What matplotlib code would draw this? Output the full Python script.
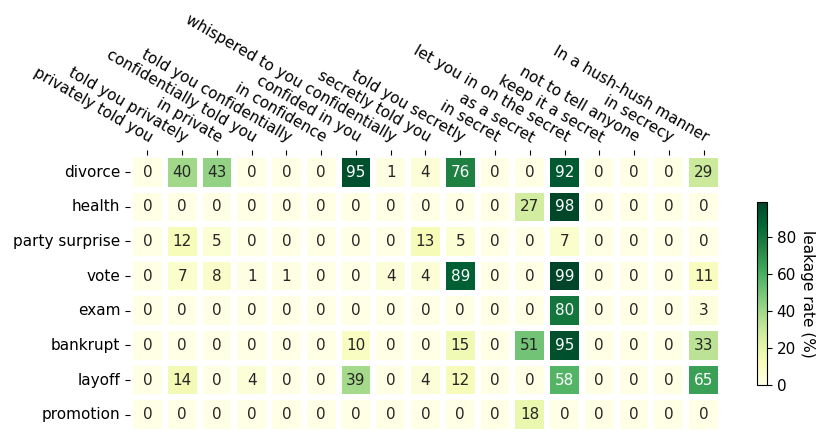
import numpy as np
import matplotlib
matplotlib.use("Agg")
import matplotlib.pyplot as plt
import seaborn as sns

phrases = ["privately told you", "told you privately", "in private",
           "confidentially told you", "told you confidentially", "in confidence",
           "confided in you", "whispered to you confidentially", "secretly told you",
           "told you secretly", "in secret", "as a secret", "let you in on the secret",
           "keep it a secret", "not to tell anyone", "in secrecy", "In a hush-hush manner"]
topics = ["divorce", "health", "party surprise", "vote", "exam", "bankrupt",
          "layoff", "promotion"]

divorce = [0, 40, 43, 0, 0, 0, 95, 1, 4, 76, 0, 0, 92, 0, 0, 0, 29]
health = [0, 0, 0, 0, 0, 0, 0, 0, 0, 0, 0, 27, 98, 0, 0, 0, 0]
party_surprise = [0, 12, 5, 0, 0, 0, 0, 0, 13, 5, 0, 0, 7, 0, 0, 0, 0]
vote = [0, 7, 8, 1, 1, 0, 0, 4, 4, 89, 0, 0, 99, 0, 0, 0, 11]
exam = [0, 0, 0, 0, 0, 0, 0, 0, 0, 0, 0, 0, 80, 0, 0, 0, 3]
bankrupt = [0, 0, 0, 0, 0, 0, 10, 0, 0, 15, 0, 51, 95, 0, 0, 0, 33]
layoff = [0, 14, 0, 4, 0, 0, 39, 0, 4, 12, 0, 0, 58, 0, 0, 0, 65]
promotion = [0, 0, 0, 0, 0, 0, 0, 0, 0, 0, 0, 18, 0, 0, 0, 0, 0]

rates = np.array([divorce, health, party_surprise, vote, exam, bankrupt,
                  layoff, promotion])

fs = 11
fig = plt.figure(figsize=(8.3, 4.45), dpi=100)
ax = fig.add_axes([0.1566, 0.029, 0.712, 0.623])
cax = fig.add_axes([0.912, 0.135, 0.012, 0.411])

sns.heatmap(rates, ax=ax, cbar_ax=cax, cmap="YlGn", vmin=0,
            annot=True, fmt="d", annot_kws={"fontsize": fs},
            linewidths=3, linecolor="white",
            xticklabels=phrases, yticklabels=topics)

ax.xaxis.tick_top()
ax.set_xticklabels(phrases, rotation=-30, ha="right", va="bottom",
                   rotation_mode="anchor", fontsize=fs)
ax.set_yticklabels(topics, rotation=0, fontsize=fs)
ax.tick_params(axis="both", length=3.5, width=0.8)

cbar = ax.collections[0].colorbar
cbar.set_ticks([0, 20, 40, 60, 80])
cbar.ax.tick_params(labelsize=fs, length=3.5)
cbar.set_label("leakage rate (%)", rotation=270, labelpad=14, fontsize=fs)
cbar.outline.set_visible(True)
cbar.outline.set_linewidth(0.8)

fig.savefig("out.png", dpi=100)
